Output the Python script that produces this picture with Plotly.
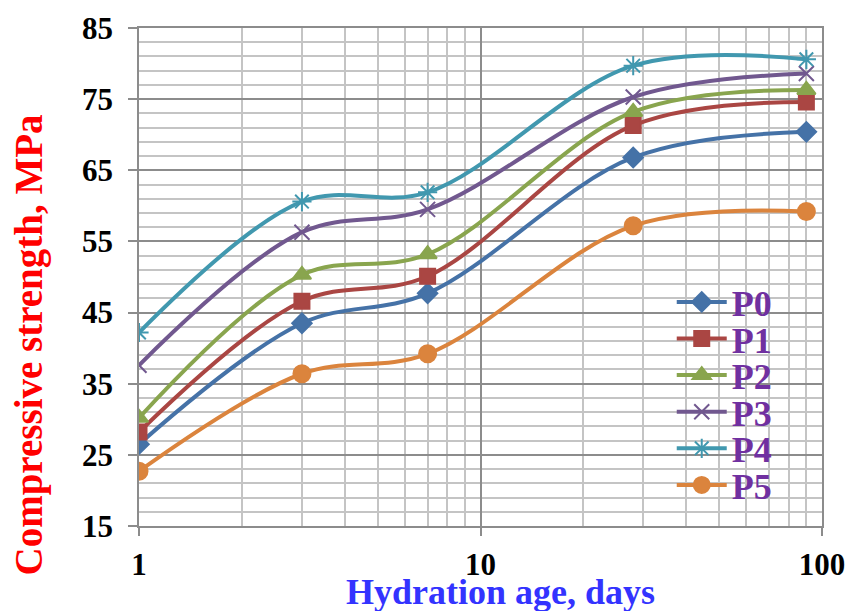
import plotly.graph_objects as go

ages = [1, 3, 7, 28, 90]
series_names = ["P0", "P1", "P2", "P3", "P4", "P5"]
p0 = [26.5, 43.5, 47.7, 66.8, 70.4]
p1 = [28.2, 46.6, 50.1, 71.3, 74.6]
p2 = [30.2, 50.3, 53.2, 73.2, 76.3]
p3 = [37.6, 56.3, 59.5, 75.3, 78.6]
p4 = [42.2, 60.6, 61.9, 79.7, 80.6]
p5 = [22.7, 36.4, 39.2, 57.2, 59.2]
values = [p0, p1, p2, p3, p4, p5]

colors = ["#4572A7", "#AA4643", "#89A54E", "#71588F", "#4198AF", "#DB843D"]
symbols = ["diamond", "square", "triangle-up", "x-thin-open", "asterisk-open", "circle"]
sizes = [15, 15, 16, 15, 16, 17]

font_family = "Liberation Serif"
legend_font = dict(family=font_family, size=36, color="#7030A0", weight="bold")

fig = go.Figure()
legend_layouts = {}
for i, (name, vals, c, s, sz) in enumerate(zip(series_names, values, colors, symbols, sizes)):
    key = "legend" if i == 0 else f"legend{i + 1}"
    fig.add_trace(go.Scatter(
        x=ages, y=vals, name=name, mode="lines+markers", legend=key,
        line=dict(color=c, width=4, shape="spline", smoothing=1.0),
        marker=dict(symbol=s, size=sz, color=c, line=dict(color=c, width=2)),
    ))
    legend_layouts[key] = dict(
        x=0.78, y=0.4498 - i * 0.0735, xanchor="left", yanchor="middle",
        bgcolor="rgba(0,0,0,0)", itemwidth=50, font=legend_font,
    )

fig.update_layout(
    width=847, height=611,
    margin=dict(l=139, r=25, t=28, b=85),
    paper_bgcolor="white", plot_bgcolor="white",
    showlegend=True,
    xaxis=dict(
        type="log", range=[0, 2], dtick=1, automargin=False,
        showgrid=True, gridcolor="#8c8c8c", gridwidth=1.5,
        showline=True, linecolor="#8c8c8c", linewidth=1.5, mirror=True,
        ticks="outside", ticklen=8, tickcolor="#8c8c8c", tickwidth=1.5,
        ticklabelstandoff=2,
        tickfont=dict(family=font_family, size=31, color="black", weight="bold"),
        minor=dict(dtick="D1", showgrid=True, gridcolor="#c4c4c4", gridwidth=1.5),
        zeroline=False,
    ),
    yaxis=dict(
        range=[15, 85], tick0=15, dtick=10, automargin=False,
        showgrid=True, gridcolor="#8c8c8c", gridwidth=1.5,
        showline=True, linecolor="#8c8c8c", linewidth=1.5, mirror=True,
        ticks="outside", ticklen=9, tickcolor="#8c8c8c", tickwidth=1.5,
        ticklabelstandoff=9,
        tickfont=dict(family=font_family, size=31, color="black", weight="bold"),
        minor=dict(tick0=15, dtick=2, showgrid=True, gridcolor="#c4c4c4", gridwidth=1.5),
        zeroline=False,
    ),
    annotations=[
        dict(text="Hydration age, days", xref="paper", yref="paper",
             x=0.5286, y=-0.133, xanchor="center", yanchor="middle", showarrow=False,
             font=dict(family=font_family, size=36, color="#3333FF", weight="bold")),
        dict(text="Compressive strength, MPa", xref="paper", yref="paper",
             x=-0.1618, y=0.3635, xanchor="center", yanchor="middle", showarrow=False,
             textangle=-90,
             font=dict(family=font_family, size=39, color="#FF0000", weight="bold")),
    ],
    **legend_layouts,
)

fig.write_html(
    "out.html",
    config={"displayModeBar": False},
    post_script="document.body.style.margin='0';document.body.style.overflow='hidden';",
)
